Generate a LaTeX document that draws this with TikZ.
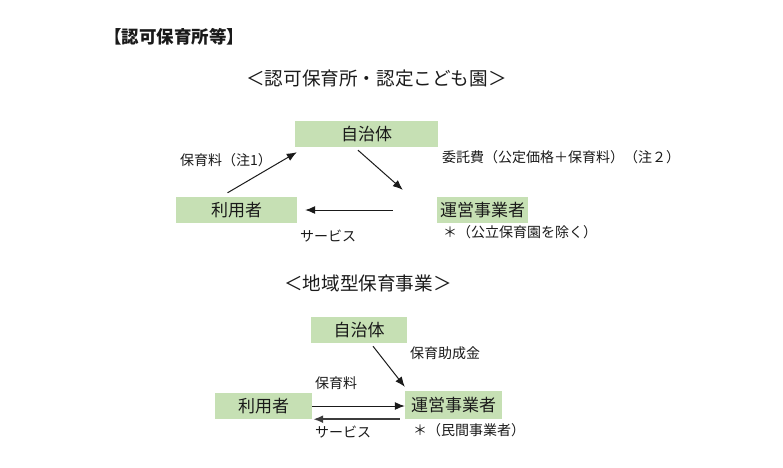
\documentclass[tikz,border=0pt]{standalone}
\usepackage{fontspec}
\setmainfont{Noto Sans CJK JP}
\usetikzlibrary{arrows.meta,calc}
\definecolor{boxgreen}{HTML}{C6E0B4}
\definecolor{txt}{HTML}{1A1A1A}
\begin{document}
\begin{tikzpicture}[x=1pt,y=-1pt,
  box/.style={fill=boxgreen,draw=none,inner sep=0pt,minimum height=26pt,text=txt,font=\fontsize{17}{17}\selectfont},
  lbl/.style={inner sep=0pt,text=txt,font=\fontsize{14}{14}\selectfont},
  arr/.style={line width=1pt,draw=txt,-{Latex[length=10pt,width=8pt]}},
  arrthick/.style={line width=1.8pt,draw=txt!85,-{Latex[length=10pt,width=8pt]}}]
\useasboundingbox (0,0) rectangle (783,467);
\node[anchor=west,inner sep=0pt,font=\fontsize{17.5}{17.5}\selectfont\bfseries,text=txt] (title) at (104,37) {【認可保育所等】};
\node[anchor=west,inner sep=0pt,font=\fontsize{18.6}{18.6}\selectfont,text=txt] (sub1) at (246,78) {＜認可保育所・認定こども園＞};
% top diagram
\node[box,minimum width=143pt] (jichi1) at (366.5,134) {自治体};
\node[box,minimum width=121pt] (riyo1) at (236.5,210) {利用者};
\node[box,minimum width=91pt] (unei1) at (482.5,210) {運営事業者};
\node[lbl,anchor=west] (l1) at (180,160) {保育料（注1）};
\node[lbl,anchor=west] (l2) at (442,157) {委託費（公定価格＋保育料）（注２）};
\node[lbl,anchor=west] (l3) at (300,236) {サービス};
\node[lbl,anchor=west] (l4) at (443,232) {＊（公立保育園を除く）};
\draw[arr] ([shift={(-9,-4)}]riyo1.north) -- ([shift={(2,5)}]jichi1.south west);
\draw[arr] ([shift={(-8.5,3)}]jichi1.south) -- ([shift={(-34,-7)}]unei1.north west);
\draw[arr] ([shift={(-44,0)}]unei1.west) -- ([shift={(8,0)}]riyo1.east);
% bottom diagram
\node[anchor=west,inner sep=0pt,font=\fontsize{18.6}{18.6}\selectfont,text=txt] (sub2) at (284,283) {＜地域型保育事業＞};
\node[box,minimum width=96pt] (jichi2) at (359,330) {自治体};
\node[box,minimum width=97pt] (riyo2) at (263.5,406) {利用者};
\node[box,minimum width=97pt,minimum height=28pt] (unei2) at (453.5,405) {運営事業者};
\node[lbl,anchor=west] (m1) at (410,353) {保育助成金};
\node[lbl,anchor=west] (m2) at (315,383) {保育料};
\node[lbl,anchor=west] (m3) at (315,432) {サービス};
\node[lbl,anchor=west] (m4) at (413,430) {＊（民間事業者）};
\draw[arr] ([shift={(14,3)}]jichi2.south) -- ([shift={(0,-4)}]unei2.north west);
\draw[arr] (riyo2.east) -- (riyo2.east -| unei2.west);
\draw[arrthick] ([shift={(-5,0)}]unei2.south west) -- ([shift={(1,0)}]riyo2.south east);
\end{tikzpicture}
\end{document}
